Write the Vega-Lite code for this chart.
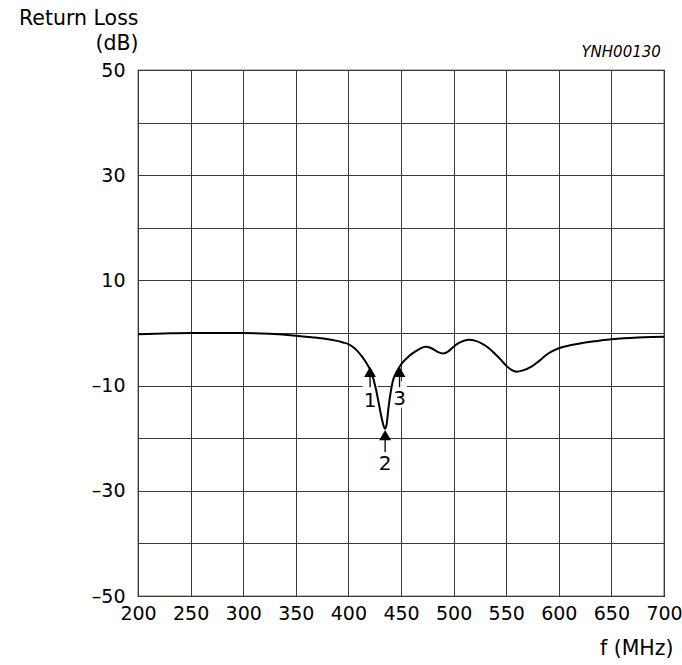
{
  "$schema": "https://vega.github.io/schema/vega-lite/v6.json",
  "autosize": {"type": "none"},
  "padding": {"left": 138, "top": 70, "right": 18, "bottom": 69},
  "width": 526,
  "height": 526,
  "background": "white",
  "config": {
    "view": {"stroke": "black", "strokeWidth": 1.2},
    "font": "DejaVu Sans",
    "axis": {"gridColor": "#3a3a3a", "gridOpacity": 1, "gridWidth": 1, "ticks": false, "domain": false, "labelFont": "DejaVu Sans", "labelFontSize": 19, "labelColor": "black", "titleFont": "DejaVu Sans", "titleFontSize": 20.5, "titleFontWeight": "normal", "titleColor": "black"}
  },
  "datasets": {
    "curve": [
      {"f": 200, "rl": -0.25}, {"f": 225, "rl": -0.1}, {"f": 250, "rl": 0}, {"f": 275, "rl": 0}, {"f": 300, "rl": 0},
      {"f": 325, "rl": -0.15}, {"f": 350, "rl": -0.5}, {"f": 365, "rl": -0.8}, {"f": 378, "rl": -1.1}, {"f": 388, "rl": -1.45},
      {"f": 395, "rl": -1.8}, {"f": 400, "rl": -2.1}, {"f": 404, "rl": -2.6}, {"f": 408, "rl": -3.3}, {"f": 413, "rl": -4.5},
      {"f": 418, "rl": -6.0}, {"f": 422, "rl": -7.6},
      {"f": 426, "rl": -10.5}, {"f": 429, "rl": -13.5}, {"f": 432, "rl": -16.5}, {"f": 434.7, "rl": -18.2}, {"f": 436.3, "rl": -17.4},
      {"f": 438, "rl": -14.4}, {"f": 440, "rl": -11.5}, {"f": 442, "rl": -9.3}, {"f": 445, "rl": -7.7}, {"f": 448, "rl": -6.6},
      {"f": 452, "rl": -5.5}, {"f": 457, "rl": -4.5}, {"f": 463, "rl": -3.6}, {"f": 468, "rl": -3.0}, {"f": 473, "rl": -2.6},
      {"f": 478, "rl": -2.8}, {"f": 484, "rl": -3.5}, {"f": 490, "rl": -3.9}, {"f": 495, "rl": -3.5}, {"f": 500, "rl": -2.6},
      {"f": 506, "rl": -1.8}, {"f": 514, "rl": -1.3}, {"f": 521, "rl": -1.5}, {"f": 527, "rl": -2.0}, {"f": 533, "rl": -2.8},
      {"f": 539, "rl": -3.9}, {"f": 545, "rl": -5.1}, {"f": 550, "rl": -6.2}, {"f": 555, "rl": -7.0}, {"f": 560, "rl": -7.35},
      {"f": 566, "rl": -7.1}, {"f": 574, "rl": -6.4}, {"f": 582, "rl": -5.2}, {"f": 590, "rl": -3.9}, {"f": 600, "rl": -2.9},
      {"f": 612, "rl": -2.3}, {"f": 625, "rl": -1.8}, {"f": 637, "rl": -1.5}, {"f": 650, "rl": -1.2}, {"f": 662, "rl": -1.0},
      {"f": 675, "rl": -0.85}, {"f": 688, "rl": -0.75}, {"f": 700, "rl": -0.7}
    ],
    "arrows": [
      {"label": "1", "f": 420.6, "tail": -10.3, "head": -7.4, "lab": -12.9, "bg0": -14.4, "bg1": -9.2},
      {"label": "2", "f": 434.9, "tail": -22.6, "head": -19.4, "lab": -24.9, "bg0": -25.0, "bg1": -20.5},
      {"label": "3", "f": 448.6, "tail": -10.3, "head": -7.4, "lab": -12.5, "bg0": -14.2, "bg1": -9.2}
    ],
    "notes": [
      {"text": "YNH00130", "f": 697, "rl": 52.4}
    ]
  },
  "encoding": {
    "x": {"type": "quantitative", "scale": {"domain": [200, 700], "nice": false, "zero": false},
          "axis": {"values": [200, 250, 300, 350, 400, 450, 500, 550, 600, 650, 700], "labelPadding": 8, "labelFlush": false, "title": "f (MHz)", "titleAlign": "right", "titleAnchor": "end", "titleX": 535, "titleY": 58, "titleBaseline": "alphabetic"}},
    "y": {"type": "quantitative", "scale": {"domain": [-50, 50], "nice": false, "zero": false},
          "axis": {"values": [-50, -40, -30, -20, -10, 0, 10, 20, 30, 40, 50], "labelPadding": 13, "labelFlush": false,
                   "labelExpr": "datum.value % 20 == 0 ? '' : (datum.value < 0 ? '–' + abs(datum.value) : '' + datum.value)",
                   "title": ["Return Loss", "(dB)"], "titleAngle": 0, "titleAlign": "right", "titleX": 0, "titleY": -62, "titleBaseline": "top", "titleLineHeight": 25.5}}
  },
  "layer": [
    {
      "data": {"name": "arrows"},
      "mark": {"type": "rule", "color": "white", "strokeWidth": 15},
      "encoding": {"x": {"field": "f"}, "y": {"field": "bg0"}, "y2": {"field": "bg1"}}
    },
    {
      "data": {"name": "curve"},
      "mark": {"type": "line", "color": "black", "strokeWidth": 2, "interpolate": "monotone", "clip": true},
      "encoding": {"x": {"field": "f"}, "y": {"field": "rl"}}
    },
    {
      "data": {"name": "arrows"},
      "mark": {"type": "rule", "color": "black", "strokeWidth": 1.3},
      "encoding": {"x": {"field": "f"}, "y": {"field": "tail"}, "y2": {"field": "head"}}
    },
    {
      "data": {"name": "arrows"},
      "mark": {"type": "point", "shape": "triangle-up", "filled": true, "color": "black", "opacity": 1, "size": 140},
      "encoding": {"x": {"field": "f"}, "y": {"field": "head"}}
    },
    {
      "data": {"name": "arrows"},
      "mark": {"type": "text", "fontSize": 20, "font": "DejaVu Sans", "color": "black", "baseline": "middle", "align": "center"},
      "encoding": {"x": {"field": "f"}, "y": {"field": "lab"}, "text": {"field": "label"}}
    },
    {
      "data": {"name": "notes"},
      "mark": {"type": "text", "fontSize": 15, "font": "DejaVu Sans", "fontStyle": "italic", "color": "black", "baseline": "alphabetic", "align": "right", "clip": false},
      "encoding": {"x": {"field": "f"}, "y": {"field": "rl"}, "text": {"field": "text"}}
    }
  ]
}
